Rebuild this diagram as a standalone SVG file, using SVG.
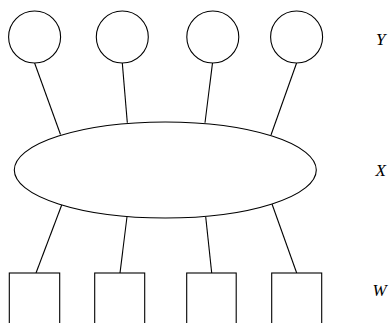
<svg xmlns="http://www.w3.org/2000/svg" width="392" height="323" viewBox="0 0 392 323">
<style>
.n{fill:#fff;stroke:#000;stroke-width:1.1}
.c line{stroke:#000;stroke-width:1.1}
.t{font-family:"Liberation Serif",serif;font-style:italic;font-size:17px;fill:#000}
</style>
<rect width="392" height="323" fill="#fff"/>
<g class="c" id="connectors">
<line x1="34.6" y1="63" x2="60.5" y2="134.5"/>
<line x1="122.3" y1="63" x2="127.3" y2="122.7"/>
<line x1="212.5" y1="63" x2="205" y2="122.7"/>
<line x1="296.6" y1="63" x2="271" y2="135"/>
<line x1="61.7" y1="205" x2="36" y2="273"/>
<line x1="127" y1="216.7" x2="120" y2="273"/>
<line x1="205.7" y1="216.7" x2="211.7" y2="273"/>
<line x1="272" y1="204" x2="296.7" y2="273"/>
</g>
<g id="y1"><circle class="n" cx="34.6" cy="37" r="26"/></g>
<g id="y2"><circle class="n" cx="122.3" cy="37" r="26"/></g>
<g id="y3"><circle class="n" cx="212.8" cy="37" r="26"/></g>
<g id="y4"><circle class="n" cx="296.6" cy="37" r="26"/></g>
<g id="x"><ellipse class="n" cx="165.3" cy="170" rx="151" ry="48"/></g>
<g id="w1"><rect class="n" x="9.3" y="273" width="50.4" height="60"/></g>
<g id="w2"><rect class="n" x="94.7" y="273" width="50" height="60"/></g>
<g id="w3"><rect class="n" x="186.7" y="273" width="49.5" height="60"/></g>
<g id="w4"><rect class="n" x="271.7" y="273" width="50" height="60"/></g>
<text class="t" x="376" y="45">Y</text>
<text class="t" x="375.5" y="175.5">X</text>
<text class="t" x="372.5" y="296">W</text>
</svg>
